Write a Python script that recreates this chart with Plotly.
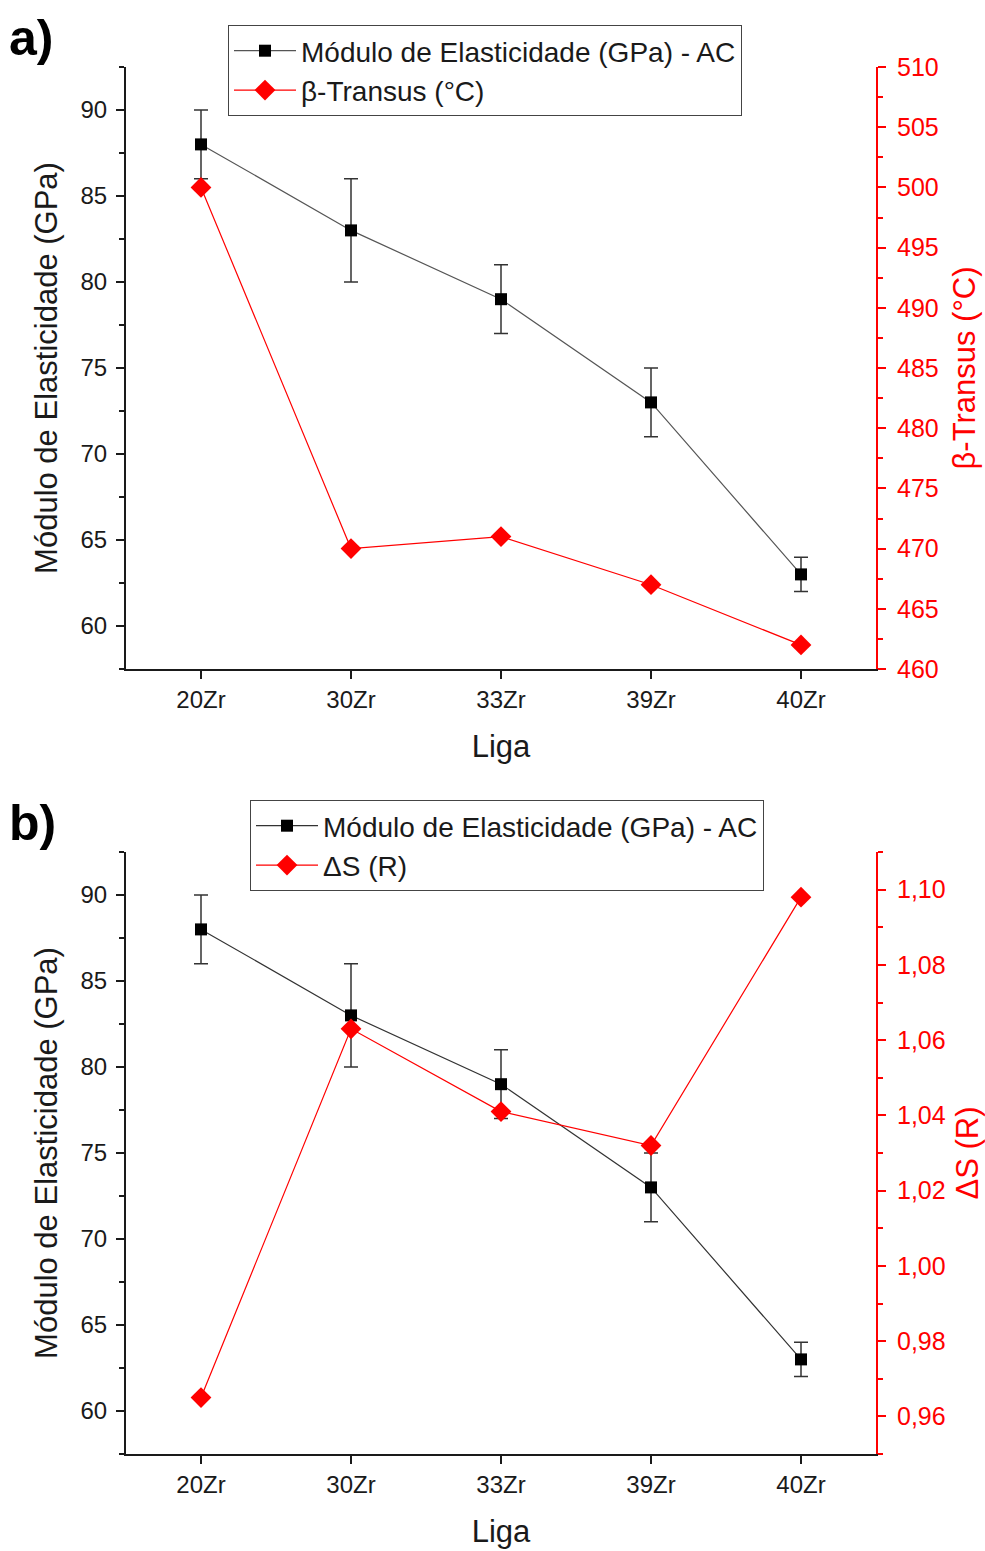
import plotly.graph_objects as go

ligas = ["20Zr", "30Zr", "33Zr", "39Zr", "40Zr"]
modulo = [88, 83, 79, 73, 63]
modulo_err = [2, 3, 2, 2, 1]
beta_transus = [500, 470, 471, 467, 462]
delta_s = [0.965, 1.063, 1.041, 1.032, 1.098]

W, H = 985, 1551
FONT = "Liberation Sans, Arial, sans-serif"
RED = "#ff0000"
INK = "#1a1a1a"

def py(px):
    return 1 - px / H

fig = go.Figure()

err = dict(type="data", array=modulo_err, visible=True, color="#333333", thickness=1.5, width=7)

fig.add_trace(go.Scatter(x=ligas, y=modulo, xaxis="x", yaxis="y", mode="lines+markers",
                         name="Módulo de Elasticidade (GPa) - AC",
                         line=dict(color="#555555", width=1.2),
                         marker=dict(symbol="square", size=12, color="black"),
                         error_y=err, legend="legend"))
fig.add_trace(go.Scatter(x=ligas, y=beta_transus, xaxis="x", yaxis="y2", mode="lines+markers",
                         name="β-Transus (°C)",
                         line=dict(color=RED, width=1.2),
                         marker=dict(symbol="diamond", size=16, color=RED), legend="legend"))
fig.add_trace(go.Scatter(x=ligas, y=modulo, xaxis="x2", yaxis="y3", mode="lines+markers",
                         name="Módulo de Elasticidade (GPa) - AC",
                         line=dict(color="#333333", width=1.2),
                         marker=dict(symbol="square", size=12, color="black"),
                         error_y=err, legend="legend2"))
fig.add_trace(go.Scatter(x=ligas, y=delta_s, xaxis="x2", yaxis="y4", mode="lines+markers",
                         name="ΔS (R)",
                         line=dict(color=RED, width=1.2),
                         marker=dict(symbol="diamond", size=16, color=RED), legend="legend2"))

xdom = [126 / W, 876 / W]
dom_a = [py(669), py(67)]
dom_b = [py(1454), py(852)]

def xax(anchor):
    return dict(domain=xdom, anchor=anchor, type="category", range=[-0.5, 4.5], automargin=False,
                showline=True, linecolor=INK, linewidth=2, ticks="outside", ticklen=8,
                tickwidth=2, tickcolor=INK, showgrid=False, zeroline=False,
                tickfont=dict(family=FONT, size=24, color=INK),
                title=dict(text="Liga", font=dict(family=FONT, size=31, color=INK), standoff=24))

def yleft(dom, anchor):
    return dict(domain=dom, anchor=anchor, range=[57.5, 92.5], tickvals=[60, 65, 70, 75, 80, 85, 90],
                automargin=False,
                showline=True, linecolor=INK, linewidth=2, ticks="outside", ticklen=8,
                tickwidth=2, tickcolor=INK, showgrid=False, zeroline=False, ticklabelstandoff=4,
                minor=dict(dtick=2.5, tick0=0, ticks="outside", ticklen=5, tickwidth=1.5, tickcolor=INK, showgrid=False),
                tickfont=dict(family=FONT, size=24, color=INK),
                title=dict(text="Módulo de Elasticidade (GPa)", font=dict(family=FONT, size=31, color=INK), standoff=14))

def yright(overlay, anchor, rng, t0, dtick, minor_dtick, title, fmt):
    return dict(overlaying=overlay, anchor=anchor, side="right", range=rng, dtick=dtick, tick0=t0,
                automargin=False,
                showline=True, linecolor=RED, linewidth=2, ticks="outside", ticklen=8,
                tickwidth=2, tickcolor=RED, showgrid=False, zeroline=False, tickformat=fmt,
                ticklabelstandoff=6,
                minor=dict(dtick=minor_dtick, ticks="outside", ticklen=5, tickwidth=1.5, tickcolor=RED, showgrid=False),
                tickfont=dict(family=FONT, size=25, color=RED),
                title=dict(text=title, font=dict(family=FONT, size=31, color=RED), standoff=16))

fig.update_layout(
    width=W, height=H, margin=dict(l=0, r=0, t=0, b=0, autoexpand=False),
    paper_bgcolor="white", plot_bgcolor="white",
    separators=",.",
    xaxis=xax("y"),
    xaxis2=xax("y3"),
    yaxis=yleft(dom_a, "x"),
    yaxis2=yright("y", "x", [460, 510], 460, 5, 2.5, "β-Transus (°C)", "d"),
    yaxis3=yleft(dom_b, "x2"),
    yaxis4=yright("y3", "x2", [0.95, 1.11], 0.96, 0.02, 0.01, "ΔS (R)", ".2f"),
    legend=dict(x=228 / W, y=py(25), xanchor="left", yanchor="top",
                bgcolor="rgba(255,255,255,0)", bordercolor="#444444", borderwidth=1,
                font=dict(family=FONT, size=28, color=INK), tracegroupgap=0,
                itemwidth=62),
    legend2=dict(x=250 / W, y=py(800), xanchor="left", yanchor="top",
                 bgcolor="rgba(255,255,255,0)", bordercolor="#444444", borderwidth=1,
                 font=dict(family=FONT, size=28, color=INK), tracegroupgap=0,
                 itemwidth=62),
    annotations=[
        dict(text="<b>a)</b>", x=7 / W, y=py(8), xref="paper", yref="paper", xanchor="left", yanchor="top",
             showarrow=False, font=dict(family=FONT, size=50, color="black")),
        dict(text="<b>b)</b>", x=7 / W, y=py(793), xref="paper", yref="paper", xanchor="left", yanchor="top",
             showarrow=False, font=dict(family=FONT, size=50, color="black")),
    ],
    showlegend=True,
)

fig.write_html("out.html")
